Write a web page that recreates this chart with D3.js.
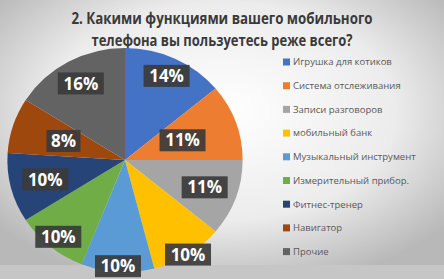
<!DOCTYPE html>
<html>
<head>
<meta charset="utf-8">
<script src="https://cdn.jsdelivr.net/npm/d3@7"></script>
<style>
  body { margin: 0; }
  svg { display: block; }
</style>
</head>
<body>
<script>
const categories = ["Игрушка для котиков", "Система отслеживания", "Записи разговоров", "мобильный банк",
  "Музыкальный инструмент", "Измерительный прибор.", "Фитнес-тренер", "Навигатор", "Прочие"];
const shares = [14, 11, 11, 10, 10, 10, 10, 8, 16];
const colors = ["#4472C4", "#ED7D31", "#A5A5A5", "#FFC000", "#5B9BD5", "#70AD47", "#264478", "#9E480E", "#636363"];
const titleLines = ["2. Какими функциями вашего мобильного", "телефона вы пользуетесь реже всего?"];
// how far out (fraction of radius) each data label sits, like Excel's best fit
const labelDist = [0.83, 0.52, 0.72, 1.0, 0.95, 0.89, 0.7, 0.55, 0.78];
const titleWidths = [301, 261];

const W = 444, H = 279;
const svg = d3.select("body").append("svg").attr("width", W).attr("height", H);

const defs = svg.append("defs");
const bg = defs.append("radialGradient").attr("id", "bg")
  .attr("cx", "50%").attr("cy", "40%").attr("r", "65%");
bg.append("stop").attr("offset", "0%").attr("stop-color", "#ffffff");
bg.append("stop").attr("offset", "60%").attr("stop-color", "#ececec");
bg.append("stop").attr("offset", "100%").attr("stop-color", "#b8b8b8");
svg.append("rect").attr("width", W).attr("height", H).attr("fill", "url(#bg)");
svg.append("rect").attr("y", 265).attr("width", W).attr("height", H - 265).attr("fill", "#c6c6c6");

// title
svg.append("g").selectAll("text").data(titleLines).enter().append("text")
  .attr("x", 222).attr("y", (d, i) => 24 + i * 22)
  .attr("text-anchor", "middle")
  .attr("textLength", (d, i) => titleWidths[i]).attr("lengthAdjust", "spacingAndGlyphs")
  .style("font-family", "'Open Sans', sans-serif").style("font-weight", "bold")
  .style("font-size", "16px").style("fill", "#3a3a3a")
  .text(d => d);

// pie
const r = 112;
const pieG = svg.append("g").attr("transform", "translate(125,160) scale(1.05,1)");
const pie = d3.pie().sort(null).value(d => d);
const arcs = pie(shares);
const arc = d3.arc().innerRadius(0).outerRadius(r);

pieG.selectAll("path").data(arcs).enter().append("path")
  .attr("d", arc)
  .attr("fill", (d, i) => colors[i]);

const labels = svg.append("g").attr("transform", "translate(125,160)")
  .selectAll("g").data(arcs).enter().append("g")
  .attr("transform", (d, i) => {
    const a = (d.startAngle + d.endAngle) / 2;
    const rr = r * labelDist[i];
    return "translate(" + (Math.sin(a) * rr * 1.05) + "," + (-Math.cos(a) * rr) + ")";
  });
labels.append("rect")
  .attr("x", d => d.data >= 10 ? -23 : -17).attr("y", -11)
  .attr("width", d => d.data >= 10 ? 46 : 34).attr("height", 22)
  .attr("fill", "#3b3b3b").attr("opacity", 0.92);
labels.append("text")
  .attr("text-anchor", "middle").attr("dy", "0.36em")
  .style("font-family", "'Open Sans', sans-serif").style("font-weight", "bold")
  .style("font-size", "17px").style("fill", "#ffffff")
  .text(d => d.data + "%");

// legend
const legend = svg.append("g").selectAll("g").data(categories).enter().append("g")
  .attr("transform", (d, i) => "translate(283," + (62 + i * 23.7) + ")");
legend.append("rect").attr("x", 0).attr("y", -3.5).attr("width", 7).attr("height", 7)
  .attr("fill", (d, i) => colors[i]);
legend.append("text").attr("x", 10).attr("dy", "0.35em")
  .style("font-family", "'Open Sans', sans-serif").style("font-size", "9.5px").style("fill", "#595959")
  .text(d => d);
</script>
</body>
</html>
